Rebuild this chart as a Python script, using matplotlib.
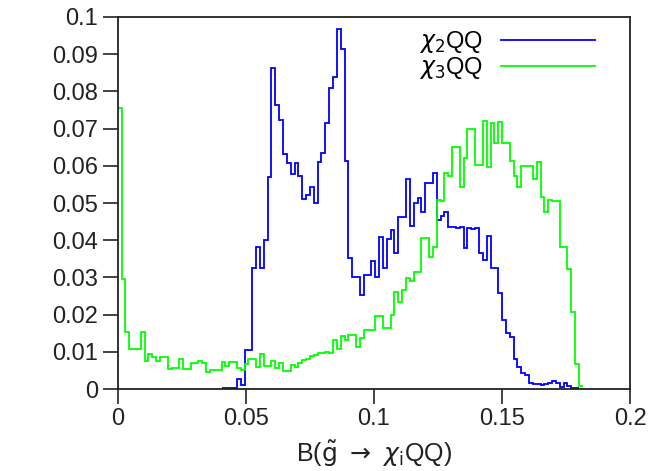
import numpy as np
import matplotlib
matplotlib.use("Agg")
import matplotlib.pyplot as plt
from matplotlib.ticker import FuncFormatter

plt.rcParams['font.family'] = ['Liberation Sans', 'DejaVu Sans']
plt.rcParams['mathtext.fontset'] = 'dejavusans'

# histogram binning (both series share it)
bin_width = 0.0015

# chi_3 QQ, starts at the first bin (x = 0)
green_start = 0
green_vals = [
    0.0755, 0.0296, 0.0153, 0.0108, 0.0108, 0.0108, 0.0153, 0.0076, 0.0093, 0.0085,
    0.0076, 0.0086, 0.0086, 0.0054, 0.0057, 0.0057, 0.0082, 0.0054, 0.0054, 0.0069,
    0.0069, 0.0076, 0.0069, 0.0047, 0.0051, 0.0051, 0.0051, 0.0073, 0.0061, 0.0073,
    0.0073, 0.0056, 0.0051, 0.0066, 0.0080, 0.0080, 0.0060, 0.0093, 0.0063, 0.0063,
    0.0076, 0.0056, 0.0069, 0.0048, 0.0048, 0.0065, 0.0059, 0.0070, 0.0078, 0.0082,
    0.0088, 0.0091, 0.0096, 0.0096, 0.0100, 0.0096, 0.0132, 0.0107, 0.0142, 0.0132,
    0.0145, 0.0145, 0.0114, 0.0136, 0.0159, 0.0159, 0.0159, 0.0196, 0.0196, 0.0163,
    0.0163, 0.0199, 0.0262, 0.0235, 0.0266, 0.0298, 0.0290, 0.0315, 0.0315, 0.0405,
    0.0405, 0.0356, 0.0383, 0.0508, 0.0506, 0.0580, 0.0573, 0.0651, 0.0651, 0.0544,
    0.0620, 0.0698, 0.0698, 0.0602, 0.0602, 0.0721, 0.0598, 0.0714, 0.0660, 0.0718,
    0.0660, 0.0660, 0.0614, 0.0573, 0.0542, 0.0600, 0.0600, 0.0600, 0.0564, 0.0609,
    0.0517, 0.0477, 0.0508, 0.0505, 0.0505, 0.0382, 0.0382, 0.0323, 0.0207, 0.0066,
    0.0008,
]

# chi_2 QQ, starts at bin 27
blue_start = 27
blue_vals = [
    0.0003, 0.0003, 0.0003, 0.0003, 0.0027, 0.0010, 0.0105, 0.0105, 0.0325, 0.0383,
    0.0325, 0.0400, 0.0571, 0.0862, 0.0763, 0.0723, 0.0632, 0.0607, 0.0578, 0.0607,
    0.0573, 0.0510, 0.0522, 0.0544, 0.0499, 0.0611, 0.0634, 0.0714, 0.0810, 0.0838,
    0.0967, 0.0913, 0.0613, 0.0351, 0.0302, 0.0302, 0.0253, 0.0306, 0.0306, 0.0345,
    0.0302, 0.0409, 0.0324, 0.0402, 0.0427, 0.0365, 0.0463, 0.0463, 0.0565, 0.0438,
    0.0501, 0.0513, 0.0477, 0.0553, 0.0553, 0.0580, 0.0455, 0.0465, 0.0477, 0.0435,
    0.0435, 0.0433, 0.0435, 0.0378, 0.0432, 0.0430, 0.0432, 0.0365, 0.0347, 0.0410,
    0.0324, 0.0324, 0.0257, 0.0185, 0.0150, 0.0139, 0.0082, 0.0060, 0.0042, 0.0038,
    0.0015, 0.0013, 0.0013, 0.0012, 0.0014, 0.0015, 0.0022, 0.0015, 0.0005, 0.0015,
    0.0008, 0.0004, 0.0004,
]

labels = [r'$\chi_2$QQ', r'$\chi_3$QQ']
colors = ['#0000ff', '#00ff00']

x_ticks = [0, 0.05, 0.1, 0.15, 0.2]
y_ticks = [0, 0.01, 0.02, 0.03, 0.04, 0.05, 0.06, 0.07, 0.08, 0.09, 0.1]


def edges_for(start, n):
    return (start + np.arange(n + 1)) * bin_width


fig = plt.figure(figsize=(6.69, 4.71), dpi=100)
ax = fig.add_axes([0.176, 0.174, 0.766, 0.790])

ax.stairs(blue_vals, edges_for(blue_start, len(blue_vals)), color=colors[0],
          lw=1.3, label=labels[0], baseline=None)
ax.stairs(green_vals, edges_for(green_start, len(green_vals)), color=colors[1],
          lw=1.3, label=labels[1], baseline=None)

ax.set_xlim(0, 0.2)
ax.set_ylim(0, 0.1)
ax.set_xticks(x_ticks)
ax.set_yticks(y_ticks)
fmt = FuncFormatter(lambda v, pos: '%g' % round(v, 4))
ax.xaxis.set_major_formatter(fmt)
ax.yaxis.set_major_formatter(fmt)
ax.tick_params(direction='out', length=11, width=1.2, labelsize=17, pad=3,
               colors='#222222', top=False, right=False)
for s in ax.spines.values():
    s.set_linewidth(1.3)
    s.set_color('#222222')

ax.set_xlabel(r'B($\tilde{\mathrm{g}}\ \rightarrow\ \chi_{\mathrm{i}}$QQ)',
              fontsize=18, labelpad=6, color='#222222')

ax.legend(loc='upper right', bbox_to_anchor=(0.95, 0.993), frameon=False,
          markerfirst=False, handlelength=4.0, fontsize=17,
          labelspacing=0.0, handletextpad=0.75, borderaxespad=0.0)

fig.savefig('out.png', dpi=100)
